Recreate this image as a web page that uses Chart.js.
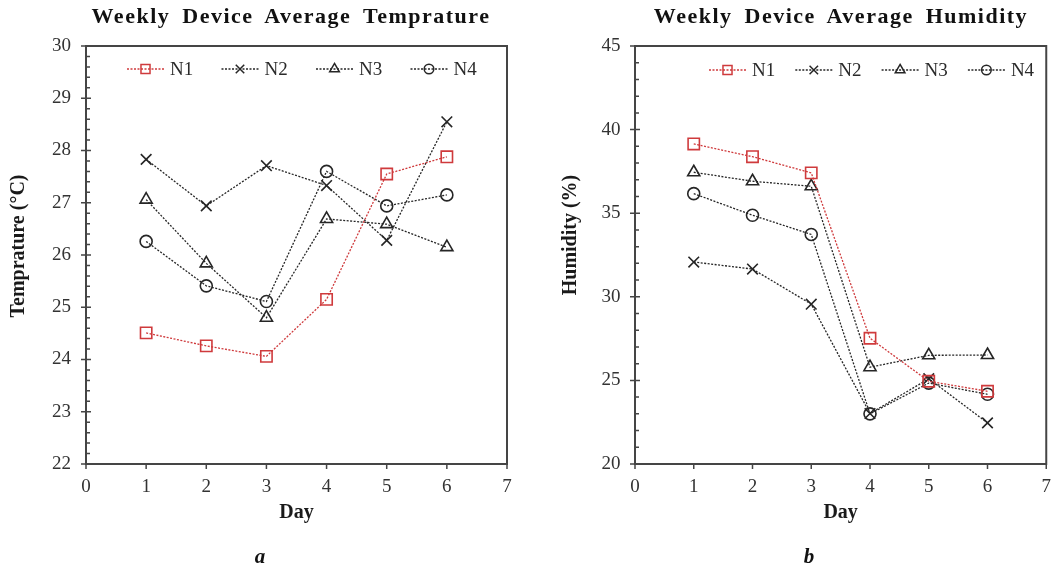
<!DOCTYPE html>
<html><head><meta charset="utf-8">
<script src="https://cdn.jsdelivr.net/npm/chart.js@4.4.1/dist/chart.umd.min.js"></script>
<style>
html,body{margin:0;padding:0;background:#fff;width:1063px;height:569px;overflow:hidden;position:relative;font-family:"Liberation Serif",serif}
canvas{position:absolute;top:0}
.title{position:absolute;top:4.5px;line-height:22px;font-weight:bold;font-size:22px;letter-spacing:1.5px;word-spacing:5px;white-space:nowrap;transform:translateX(-50%);color:#111}
.cap{position:absolute;font-weight:bold;font-style:italic;font-size:21px;line-height:21px;transform:translate(-50%,-50%);color:#111}
</style></head>
<body>
<canvas id="c1" width="531" height="569" style="left:0"></canvas>
<canvas id="c2" width="532" height="569" style="left:531px"></canvas>
<div class="title" style="left:291px">Weekly Device Average Temprature</div>
<div class="title" style="left:841px">Weekly Device Average Humidity</div>
<div class="cap" style="left:260px;top:556px">a</div>
<div class="cap" style="left:809px;top:556px">b</div>
<script>
// ---- data ----
const days = [1, 2, 3, 4, 5, 6];
const seriesNames = ['N1', 'N2', 'N3', 'N4'];
const tempN1 = [24.51, 24.26, 24.06, 25.15, 27.55, 27.88];
const tempN2 = [27.83, 26.94, 27.71, 27.33, 26.28, 28.55];
const tempN3 = [27.06, 25.84, 24.80, 26.69, 26.59, 26.15];
const tempN4 = [26.26, 25.41, 25.11, 27.60, 26.94, 27.15];
const humN1 = [39.14, 38.38, 37.41, 27.52, 24.95, 24.35];
const humN2 = [32.08, 31.66, 29.56, 23.02, 25.10, 22.46];
const humN3 = [37.45, 36.91, 36.61, 25.79, 26.50, 26.52];
const humN4 = [36.17, 34.88, 33.73, 23.00, 24.84, 24.17];
const xRange = [0, 7];
const tempRange = [22, 30];
const humRange = [20, 45];

// ---- styles ----
const styles = [
  {color: '#cf3a3c', pointStyle: 'rect', radius: 8},
  {color: '#262626', pointStyle: 'crossRot', radius: 7.5},
  {color: '#262626', pointStyle: 'triangle', radius: 7},
  {color: '#262626', pointStyle: 'circle', radius: 6}
];
const FONT = '"Liberation Serif", "Times New Roman", serif';

function drawMarker(ctx, style, x, y, r) {
  if (Chart.helpers && Chart.helpers.drawPoint) {
    ctx.fillStyle = 'rgba(0,0,0,0)';
    Chart.helpers.drawPoint(ctx, {pointStyle: style, rotation: 0, radius: r, borderWidth: 1.5}, x, y);
    return;
  }
  ctx.beginPath();
  if (style === 'rect') { const s = r * Math.SQRT1_2; ctx.rect(x - s, y - s, 2 * s, 2 * s); }
  else if (style === 'circle') { ctx.arc(x, y, r, 0, Math.PI * 2); }
  else if (style === 'triangle') {
    for (let k = 0; k < 3; k++) { const a = -Math.PI / 2 + k * 2 * Math.PI / 3; const px = x + r * Math.cos(a), py = y + r * Math.sin(a); k ? ctx.lineTo(px, py) : ctx.moveTo(px, py); }
    ctx.closePath();
  } else { const s = r * Math.SQRT1_2; ctx.moveTo(x - s, y - s); ctx.lineTo(x + s, y + s); ctx.moveTo(x + s, y - s); ctx.lineTo(x - s, y + s); }
  ctx.stroke();
}

const decor = {
  id: 'decor',
  beforeDatasetsDraw(chart, args, o) {
    const {ctx, chartArea: a, scales: {x, y}} = chart;
    ctx.save();
    ctx.strokeStyle = '#454545';
    ctx.lineWidth = 2;
    ctx.strokeRect(a.left, a.top, a.right - a.left, a.bottom - a.top);
    ctx.lineWidth = 1.5;
    ctx.beginPath();
    const n = Math.round((o.yMax - o.yMin) / o.yMinor);
    const per = Math.round(o.yMajor / o.yMinor);
    for (let i = 0; i <= n; i++) {
      const p = y.getPixelForValue(o.yMin + i * o.yMinor);
      if (i % per === 0) { ctx.moveTo(a.left - 5, p); ctx.lineTo(a.left + 5, p); }
      else { ctx.moveTo(a.left, p); ctx.lineTo(a.left + 4, p); }
    }
    for (let v = o.xMin; v <= o.xMax; v++) {
      const p = x.getPixelForValue(v);
      ctx.moveTo(p, a.bottom); ctx.lineTo(p, a.bottom + 5);
    }
    ctx.stroke();
    // rotated y-axis title
    ctx.translate(o.yTitleX, o.yTitleY);
    ctx.rotate(-Math.PI / 2);
    ctx.fillStyle = '#1a1a1a';
    ctx.font = 'bold 20px ' + FONT;
    ctx.textAlign = 'center';
    ctx.textBaseline = 'middle';
    ctx.fillText(o.yTitle, 0, 0);
    ctx.restore();
  },
  afterDatasetsDraw(chart, args, o) {
    const {ctx} = chart;
    ctx.save();
    chart.data.datasets.forEach((ds, i) => {
      const x0 = o.legendX + i * o.legendSpacing;
      const ly = o.legendY;
      ctx.strokeStyle = ds.borderColor;
      ctx.lineWidth = 1.3;
      ctx.setLineDash([2, 1.5]);
      ctx.beginPath(); ctx.moveTo(x0, ly); ctx.lineTo(x0 + 37, ly); ctx.stroke();
      ctx.setLineDash([]);
      ctx.lineWidth = 1.5;
      drawMarker(ctx, ds.pointStyle, x0 + 18.5, ly, ds.pointRadius * 0.8);
      ctx.fillStyle = '#2a2a2a';
      ctx.font = '19px ' + FONT;
      ctx.textBaseline = 'middle';
      ctx.textAlign = 'left';
      ctx.fillText(ds.label, x0 + 43, ly + 1);
    });
    ctx.restore();
  }
};

function makeChart(id, series, yRange, yMajor, yMinor, yTitle, geo) {
  const datasets = series.map((vals, i) => ({
    label: seriesNames[i],
    data: days.map((d, j) => ({x: d, y: vals[j]})),
    borderColor: styles[i].color,
    borderWidth: 1.3,
    borderDash: [2, 1.5],
    pointStyle: styles[i].pointStyle,
    pointRadius: styles[i].radius,
    pointHoverRadius: styles[i].radius,
    pointBorderColor: styles[i].color,
    pointBackgroundColor: 'rgba(0,0,0,0)',
    pointBorderWidth: 1.6,
    tension: 0,
    fill: false
  }));
  return new Chart(document.getElementById(id), {
    type: 'line',
    data: {datasets},
    plugins: [decor],
    options: {
      responsive: false,
      animation: false,
      devicePixelRatio: 1,
      layout: {padding: {top: 46, right: geo.padRight, left: 0, bottom: 0}},
      plugins: {
        legend: {display: false},
        tooltip: {enabled: false},
        title: {display: false},
        decor: {
          yMin: yRange[0], yMax: yRange[1], yMajor, yMinor,
          xMin: xRange[0], xMax: xRange[1],
          yTitle, yTitleX: geo.yTitleX, yTitleY: geo.yTitleY,
          legendX: geo.legendX, legendSpacing: geo.legendSpacing, legendY: geo.legendY
        }
      },
      scales: {
        x: {
          type: 'linear', min: xRange[0], max: xRange[1],
          grid: {display: false, drawTicks: false},
          border: {display: false},
          ticks: {stepSize: 1, padding: 12, color: '#333', font: {family: FONT, size: 19}},
          title: {display: true, text: 'Day', color: '#1a1a1a', font: {family: FONT, size: 20, weight: 'bold'}, padding: {top: 0, bottom: 44}},
          afterFit(s) { s.height = 105; }
        },
        y: {
          type: 'linear', min: yRange[0], max: yRange[1],
          grid: {display: false, drawTicks: false},
          border: {display: false},
          ticks: {stepSize: yMajor, padding: geo.yPad, color: '#333', font: {family: FONT, size: 19}},
          title: {display: false},
          afterFit(s) { s.width = geo.yWidth; }
        }
      }
    }
  });
}

makeChart('c1', [tempN1, tempN2, tempN3, tempN4], tempRange, 1, 0.2, 'Temprature (°C)',
  {padRight: 24, yWidth: 86, yPad: 15, yTitleX: 19, yTitleY: 246, legendX: 127, legendSpacing: 94.5, legendY: 69});
makeChart('c2', [humN1, humN2, humN3, humN4], humRange, 5, 1, 'Humidity (%)',
  {padRight: 9, yWidth: 104, yPad: 14.5, yTitleX: 40, yTitleY: 235, legendX: 178, legendSpacing: 86.3, legendY: 70});
</script>
</body></html>
